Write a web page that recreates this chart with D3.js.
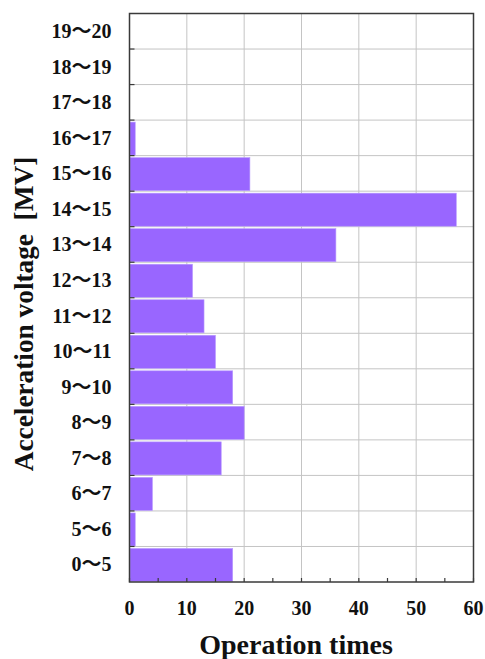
<!DOCTYPE html>
<meta charset="utf-8">
<html>
<head>
<script src="https://d3js.org/d3.v7.min.js"></script>
<style>
  body { margin: 0; background: #fff; }
  svg text { font-family: "Liberation Serif", "Noto Sans CJK JP", "DejaVu Serif", serif; font-weight: bold; fill: #111; }
</style>
</head>
<body>
<div id="viz"></div>
<script>
const categories = ["0～5", "5～6", "6～7", "7～8", "8～9", "9～10", "10～11", "11～12",
    "12～13", "13～14", "14～15", "15～16", "16～17", "17～18", "18～19", "19～20"];
const counts = [18, 1, 4, 16, 20, 18, 15, 13, 11, 36, 57, 21, 1, 0, 0, 0];
const xTicks = [0, 10, 20, 30, 40, 50, 60];
const xMinorTicks = [5, 15, 25, 35, 45, 55];

const w = 485, h = 659;
const margin = {top: 13.5, right: 11.5, bottom: 77, left: 129.5};
const width = w - margin.left - margin.right,
    height = h - margin.top - margin.bottom;
const barColor = "#9966ff",
    gridColor = "#c4c4c4",
    axisColor = "#3a3a3a";

const svg = d3.select("#viz").append("svg")
    .attr("width", w)
    .attr("height", h);

const x = d3.scaleLinear().domain([0, 60]).range([0, width]);
const y = d3.scaleBand()
    .domain(categories.slice().reverse())
    .range([0, height])
    .paddingInner(0)
    .paddingOuter(0);

const g = svg.append("g")
    .attr("transform", `translate(${margin.left},${margin.top})`);

// grid
g.selectAll(".vgrid")
    .data(xTicks.slice(1, -1))
    .join("line")
    .attr("x1", d => x(d)).attr("x2", d => x(d))
    .attr("y1", 0).attr("y2", height)
    .attr("stroke", gridColor).attr("stroke-width", 1);

g.selectAll(".hgrid")
    .data(categories.slice(1))
    .join("line")
    .attr("x1", 0).attr("x2", width)
    .attr("y1", d => y(d) + y.bandwidth()).attr("y2", d => y(d) + y.bandwidth())
    .attr("stroke", gridColor).attr("stroke-width", 1);

// bars
g.selectAll(".bar")
    .data(categories.map((c, i) => ({c, v: counts[i]})).filter(d => d.v > 0))
    .join("rect")
    .attr("x", 0.5)
    .attr("y", d => y(d.c) + 2)
    .attr("width", d => x(d.v) - 0.5)
    .attr("height", y.bandwidth() - 2.5)
    .attr("fill", barColor)
    .attr("stroke", "#b99cff")
    .attr("stroke-width", 0.6);

// ticks on left axis (category boundaries)
g.selectAll(".ytick")
    .data(categories.slice(1))
    .join("line")
    .attr("x1", 0).attr("x2", 5)
    .attr("y1", d => y(d) + y.bandwidth()).attr("y2", d => y(d) + y.bandwidth())
    .attr("stroke", axisColor).attr("stroke-width", 1.2);

// ticks on bottom axis
g.selectAll(".xtick")
    .data(xTicks.concat(xMinorTicks))
    .join("line")
    .attr("x1", d => x(d)).attr("x2", d => x(d))
    .attr("y1", height).attr("y2", height - 4)
    .attr("stroke", axisColor).attr("stroke-width", 1.2);

// frame
g.append("rect")
    .attr("x", 0).attr("y", 0)
    .attr("width", width).attr("height", height)
    .attr("fill", "none")
    .attr("stroke", axisColor)
    .attr("stroke-width", 1.5);

// tick labels
g.selectAll(".ylabel")
    .data(categories)
    .join("text")
    .attr("x", -18)
    .attr("y", d => y(d) + y.bandwidth() / 2)
    .attr("dy", "0.35em")
    .attr("text-anchor", "end")
    .style("font-size", "20px")
    .text(d => d);

g.selectAll(".xlabel")
    .data(xTicks)
    .join("text")
    .attr("x", d => x(d))
    .attr("y", height + 33)
    .attr("text-anchor", "middle")
    .style("font-size", "20px")
    .text(d => d);

// axis titles
svg.append("text")
    .attr("x", 296)
    .attr("y", 654)
    .attr("text-anchor", "middle")
    .style("font-size", "28px")
    .text("Operation times");

svg.append("text")
    .attr("transform", `translate(33,314) rotate(-90)`)
    .attr("text-anchor", "middle")
    .style("font-size", "27.3px")
    .style("white-space", "pre")
    .text("Acceleration voltage  [MV]");
</script>
</body>
</html>
